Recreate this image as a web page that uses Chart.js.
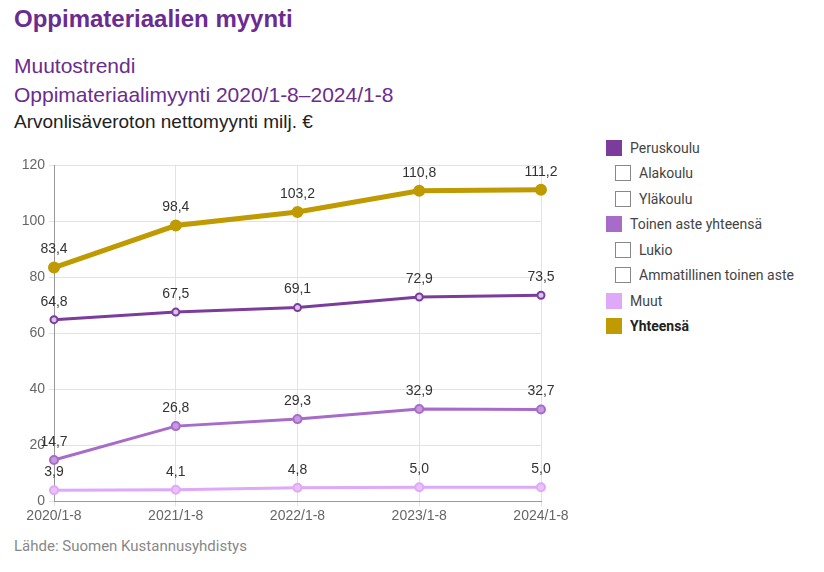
<!DOCTYPE html>
<html lang="fi">
<head>
<meta charset="utf-8">
<title>Oppimateriaalien myynti</title>
<script src="https://cdn.jsdelivr.net/npm/chart.js@4"></script>
<style>
  body { margin: 0; background: #fff; font-family: "Liberation Sans", Arial, sans-serif; }
  .wrap { position: relative; width: 824px; height: 572px; overflow: hidden; }
  h1 { position: absolute; left: 14px; top: 5px; margin: 0; font-size: 24px; font-weight: bold; color: #6a2c91; }
  .sub { position: absolute; left: 14px; margin: 0; font-size: 21px; color: #6a2c91; }
  .unit { position: absolute; left: 14px; top: 111px; margin: 0; font-size: 19px; color: #222; }
  .chartbox { position: absolute; left: 0; top: 150px; width: 590px; height: 377px; }
  .source { position: absolute; left: 14px; top: 537px; font-size: 15px; color: #888; font-family: "Roboto", sans-serif; }
  #legend { position: absolute; left: 606px; top: 135px; font-family: "Roboto", sans-serif; font-size: 14px; color: #444; }
  #legend div { height: 25.5px; display: flex; align-items: center; }
  #legend .box { width: 16px; height: 16px; margin-right: 8px; box-sizing: border-box; }
  #legend .sub { position: static; font-size: 14px; color: #444; padding-left: 9px; }
  #legend .sub .box { border: 1px solid #888; background: #fff; }
</style>
</head>
<body>
<div class="wrap">
  <h1>Oppimateriaalien myynti</h1>
  <p class="sub" style="top:54px">Muutostrendi</p>
  <p class="sub" style="top:83px">Oppimateriaalimyynti 2020/1-8–2024/1-8</p>
  <p class="unit">Arvonlisäveroton nettomyynti milj. €</p>
  <div class="chartbox"><canvas id="chart"></canvas></div>
  <div id="legend"></div>
  <div class="source">Lähde: Suomen Kustannusyhdistys</div>
</div>
<script>
// chart values
const categories = ['2020/1-8', '2021/1-8', '2022/1-8', '2023/1-8', '2024/1-8'];
const peruskoulu = [64.8, 67.5, 69.1, 72.9, 73.5];
const toinenAste = [14.7, 26.8, 29.3, 32.9, 32.7];
const muut = [3.9, 4.1, 4.8, 5.0, 5.0];
const yhteensa = [83.4, 98.4, 103.2, 110.8, 111.2];
const yTicks = [0, 20, 40, 60, 80, 100, 120];

// legend rows (sub rows have no data shown)
const legendItems = [
  { label: 'Peruskoulu', color: '#7b3c9c' },
  { label: 'Alakoulu', sub: true },
  { label: 'Yläkoulu', sub: true },
  { label: 'Toinen aste yhteensä', color: '#a76bc9' },
  { label: 'Lukio', sub: true },
  { label: 'Ammatillinen toinen aste', sub: true },
  { label: 'Muut', color: '#dfa8f8' },
  { label: 'Yhteensä', color: '#bf9a00', bold: true }
];

const legend = document.getElementById('legend');
legendItems.forEach(item => {
  const row = document.createElement('div');
  if (item.sub) row.className = 'sub';
  const box = document.createElement('span');
  box.className = 'box';
  if (item.color) box.style.background = item.color;
  const txt = document.createElement('span');
  txt.textContent = item.label;
  if (item.bold) { txt.style.fontWeight = 'bold'; txt.style.color = '#222'; }
  row.appendChild(box);
  row.appendChild(txt);
  legend.appendChild(row);
});

function series(label, data, color, width, radius, fill) {
  return {
    label: label,
    data: data,
    borderColor: color,
    backgroundColor: color,
    borderWidth: width,
    pointRadius: radius,
    pointBorderWidth: 2,
    pointBackgroundColor: fill,
    pointBorderColor: color,
    tension: 0
  };
}

// value labels above points
const valueLabels = {
  id: 'valueLabels',
  afterDatasetsDraw(chart) {
    const ctx = chart.ctx;
    ctx.save();
    ctx.font = '14px "Liberation Sans", Arial, sans-serif';
    ctx.fillStyle = '#333';
    ctx.textAlign = 'center';
    ctx.textBaseline = 'bottom';
    chart.data.datasets.forEach((ds, i) => {
      chart.getDatasetMeta(i).data.forEach((pt, j) => {
        ctx.fillText(ds.data[j].toFixed(1).replace('.', ','), pt.x, pt.y - 11);
      });
    });
    ctx.restore();
  }
};

const tickFont = { size: 14, family: '"Liberation Sans", Arial, sans-serif' };

new Chart(document.getElementById('chart'), {
  type: 'line',
  data: {
    labels: categories,
    datasets: [
      series('Muut', muut, '#dfa8f8', 3, 4, '#e9c2fa'),
      series('Toinen aste yhteensä', toinenAste, '#a76bc9', 3, 4, '#c59ae0'),
      series('Peruskoulu', peruskoulu, '#7b3c9c', 3, 3.5, '#d9c3e6'),
      series('Yhteensä', yhteensa, '#bf9a00', 5, 5, '#bf9a00')
    ]
  },
  options: {
    responsive: true,
    maintainAspectRatio: false,
    animation: false,
    layout: { padding: { top: 15, right: 49, left: 0, bottom: 0 } },
    plugins: { legend: { display: false }, tooltip: { enabled: false } },
    scales: {
      x: {
        offset: false,
        grid: { color: '#e2e2e2', tickLength: 5 },
        border: { color: '#999' },
        ticks: { color: '#666', font: tickFont, padding: 2, maxRotation: 0 }
      },
      y: {
        min: 0,
        max: 120,
        afterBuildTicks: scale => { scale.ticks = yTicks.map(v => ({ value: v })); },
        afterFit: scale => { scale.width = 54; },
        grid: { color: '#e2e2e2', tickLength: 5 },
        border: { color: '#999' },
        ticks: { color: '#666', font: tickFont, padding: 4 }
      }
    }
  },
  plugins: [valueLabels]
});
</script>
</body>
</html>
